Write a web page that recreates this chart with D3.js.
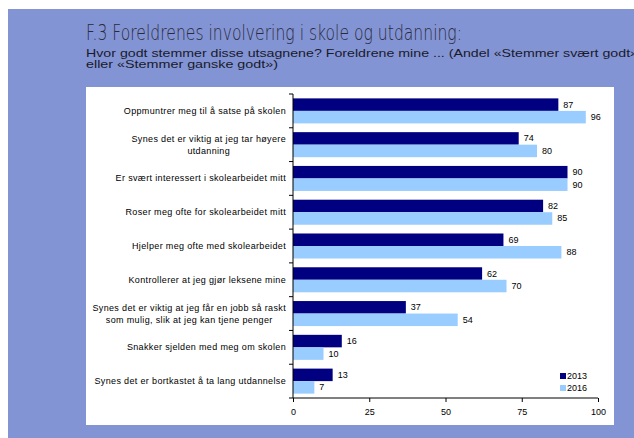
<!DOCTYPE html>
<html><head><meta charset="utf-8">
<script src="https://cdn.jsdelivr.net/npm/d3@7"></script>
<style>body{margin:0;background:#fff}svg{display:block}</style>
</head><body>
<script>
const categories = [
  ["Oppmuntrer meg til å satse på skolen"],
  ["Synes det er viktig at jeg tar høyere", "utdanning"],
  ["Er svært interessert i skolearbeidet mitt"],
  ["Roser meg ofte for skolearbeidet mitt"],
  ["Hjelper meg ofte med skolearbeidet"],
  ["Kontrollerer at jeg gjør leksene mine"],
  ["Synes det er viktig at jeg får en jobb så raskt", "som mulig, slik at jeg kan tjene penger"],
  ["Snakker sjelden med meg om skolen"],
  ["Synes det er bortkastet å ta lang utdannelse"]
];
const seriesNames = ["2013", "2016"];
const values2013 = [87, 74, 90, 82, 69, 62, 37, 16, 13];
const values2016 = [96, 80, 90, 85, 88, 70, 54, 10, 7];
const xTicks = [0, 25, 50, 75, 100];
const title = "F.3 Foreldrenes involvering i skole og utdanning:";
const subtitle = ["Hvor godt stemmer disse utsagnene? Foreldrene mine ... (Andel «Stemmer svært godt»", "eller «Stemmer ganske godt»)"];

const W = 634, H = 438;
const colors = ["#000080", "#99ccff"];
const svg = d3.select("body").append("svg").attr("width", W).attr("height", H);

svg.append("rect").attr("x", 8).attr("y", 9).attr("width", W - 8).attr("height", H - 9).attr("fill", "#8394d5");
svg.append("rect").attr("x", 86).attr("y", 87).attr("width", 528).attr("height", 338).attr("fill", "#fff");

svg.append("text").attr("x", 86).attr("y", 40).attr("font-family", "DejaVu Sans").attr("font-weight", 200)
  .attr("font-size", 21).attr("fill", "#2a2a3a").attr("textLength", 376).attr("lengthAdjust", "spacingAndGlyphs").text(title);
svg.append("text").attr("x", 86).attr("y", 56.5).attr("font-family", "Liberation Sans").attr("font-size", 11)
  .attr("fill", "#1a1a2a").attr("textLength", 552).attr("lengthAdjust", "spacingAndGlyphs").text(subtitle[0]);
svg.append("text").attr("x", 86).attr("y", 67.5).attr("font-family", "Liberation Sans").attr("font-size", 11)
  .attr("fill", "#1a1a2a").attr("textLength", 192).attr("lengthAdjust", "spacingAndGlyphs").text(subtitle[1]);

const x = d3.scaleLinear().domain([0, 100]).range([293, 598]);
const y = d3.scaleBand().domain(d3.range(categories.length)).range([94, 398]);
const sub = d3.scaleBand().domain([0, 1]).range([0, y.bandwidth()]).paddingOuter(0.35).paddingInner(0);

const data = categories.map((c, i) => ({i, c, v: [values2013[i], values2016[i]]}));
const g = svg.append("g");

data.forEach(d => {
  d.v.forEach((v, s) => {
    g.append("rect").attr("x", x(0)).attr("y", y(d.i) + sub(s)).attr("width", x(v) - x(0))
      .attr("height", sub.bandwidth()).attr("fill", colors[s]);
    g.append("text").attr("x", x(v) + 5).attr("y", y(d.i) + sub(s) + sub.bandwidth() / 2 + 3)
      .attr("font-family", "Liberation Sans").attr("font-size", 9).attr("fill", "#000").text(v);
  });
  const n = d.c.length;
  const lt = g.append("text").attr("font-family", "Liberation Sans").attr("font-size", 9).attr("fill", "#000")
    .attr("letter-spacing", 0.35).attr("text-anchor", "middle");
  const lines = d.c.map(line => lt.append("tspan").text(line));
  let maxW = 0;
  lines.forEach(t => { maxW = Math.max(maxW, t.node().getComputedTextLength()); });
  const cx = 286 - maxW / 2;
  const cy = y(d.i) + y.bandwidth() / 2;
  lines.forEach((t, k) => t.attr("x", cx).attr("y", cy + 3 + (k - (n - 1) / 2) * 12));
});

// y axis
const yAxis = g.append("g");
yAxis.append("line").attr("x1", x(0)).attr("x2", x(0)).attr("y1", 94).attr("y2", 398).attr("stroke", "#000");
d3.range(categories.length + 1).forEach(k => {
  const yy = k < categories.length ? y(k) : 398;
  yAxis.append("line").attr("x1", x(0) - 4).attr("x2", x(0)).attr("y1", yy).attr("y2", yy).attr("stroke", "#000");
});

// x axis
const xa = svg.append("g").attr("transform", "translate(0,398)")
  .call(d3.axisBottom(x).tickValues(xTicks).tickSize(4).tickPadding(7));
xa.select(".domain").attr("stroke", "#000").attr("d", `M${x(0)},0H${x(100)}`);
xa.selectAll(".tick line").attr("stroke", "#000");
xa.selectAll("text").attr("font-family", "Liberation Sans").attr("font-size", 9).attr("fill", "#000");

// legend
const lg = svg.append("g");
seriesNames.forEach((s, k) => {
  lg.append("rect").attr("x", 560).attr("y", 373 + k * 12).attr("width", 6).attr("height", 6).attr("fill", colors[k]);
  lg.append("text").attr("x", 567).attr("y", 379 + k * 12).attr("font-family", "Liberation Sans")
    .attr("font-size", 9).attr("fill", "#000").text(s);
});
</script>
</body></html>
